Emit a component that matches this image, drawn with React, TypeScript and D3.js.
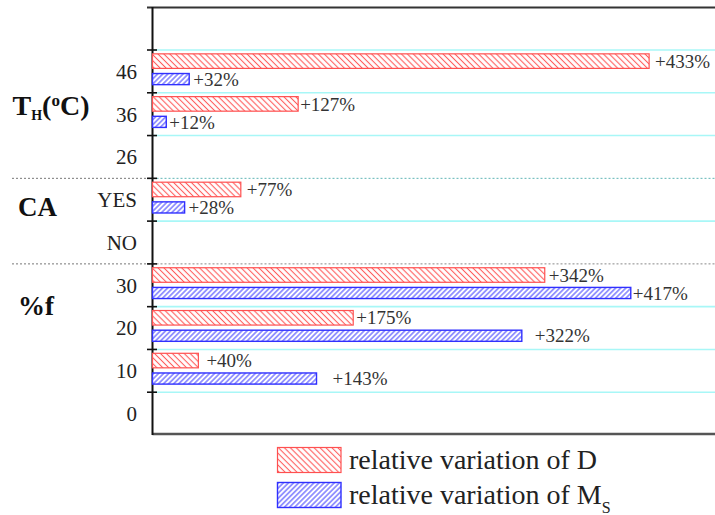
import React from "react";
import * as d3 from "d3";

// Row categories, top to bottom
const categories = ["46", "36", "26", "YES", "NO", "30", "20", "10", "0"];
// Relative variation of D (%) per row
const dVariation: (number | null)[] = [433, 127, null, 77, null, 342, 175, 40, null];
// Relative variation of Ms (%) per row
const msVariation: (number | null)[] = [32, 12, null, 28, null, 417, 322, 143, null];
// Group boundaries drawn as dashed separators (first row of each later group)
const groupStarts = ["YES", "30"];

// Horizontal nudges of the value labels (px past the bar end)
const dLabelGap = [6, 2, 0, 6, 0, 4, 3, 8, 0];
const msLabelGap = [4, 3, 0, 4, 0, 2, 13, 16, 0];

const W = 715;
const H = 515;
const serif = "'Liberation Serif', 'Times New Roman', serif";

export default function App() {
  const x = d3.scaleLinear().domain([0, 490]).range([152.5, 714.5]);
  const y = d3.scaleBand<string>().domain(categories).range([50, 435]).padding(0);
  const step = y.step();
  const axisX = x(0);

  const dTop = (c: string) => (y(c) as number) + step * 0.09;
  const dH = step * 0.34;
  const mTop = (c: string) => (y(c) as number) + step * 0.55;
  const mH = step * 0.26;

  return (
    <svg
      width={W}
      height={H}
      style={{ position: "absolute", left: 0, top: 0, background: "#fff" }}
      fontFamily={serif}
    >
      <defs>
        <pattern id="hatchD" patternUnits="userSpaceOnUse" width={4.2} height={4.2} patternTransform="rotate(-45)">
          <rect width={4.2} height={4.2} fill="#fff" />
          <line x1={2.1} y1={0} x2={2.1} y2={4.2} stroke="#ff5c5c" strokeWidth={1.1} />
        </pattern>
        <pattern id="hatchM" patternUnits="userSpaceOnUse" width={3.6} height={3.6} patternTransform="rotate(45)">
          <rect width={3.6} height={3.6} fill="#fff" />
          <line x1={1.8} y1={0} x2={1.8} y2={3.6} stroke="#4b4bff" strokeWidth={1.1} />
        </pattern>
      </defs>

      {/* row separators */}
      {categories.map((c) =>
        groupStarts.includes(c) ? null : (
          <line key={"g" + c} x1={axisX} x2={W} y1={y(c)} y2={y(c)} stroke="#a8f7f7" strokeWidth={1.6} />
        )
      )}
      {groupStarts.map((c, i) => (
        <g key={"sep" + c}>
          <line x1={12} x2={axisX} y1={y(c)} y2={y(c)} stroke="#777" strokeWidth={1} strokeDasharray="2,2" />
          <line
            x1={axisX}
            x2={W}
            y1={y(c)}
            y2={y(c)}
            stroke={i === 0 ? "#5fb5b5" : "#888"}
            strokeWidth={1}
            strokeDasharray="2,2"
          />
        </g>
      ))}

      {/* frame */}
      <line x1={147} x2={W} y1={7.5} y2={7.5} stroke="#333" strokeWidth={2} />
      <line x1={axisX} x2={W} y1={434} y2={434} stroke="#555" strokeWidth={2.5} />
      <line x1={axisX} x2={axisX} y1={7} y2={435} stroke="#111" strokeWidth={2} />
      {categories.map((c) => (
        <line key={"t" + c} x1={147} x2={157} y1={y(c)} y2={y(c)} stroke="#111" strokeWidth={1.6} />
      ))}

      {/* tick labels */}
      {categories.map((c) => (
        <text
          key={"l" + c}
          x={137}
          y={(y(c) as number) + step / 2}
          dy="0.35em"
          textAnchor="end"
          fontSize={21}
          fill="#222"
        >
          {c}
        </text>
      ))}

      {/* bars */}
      {categories.map((c, i) => {
        const d = dVariation[i];
        const m = msVariation[i];
        return (
          <g key={"b" + c}>
            {d != null && (
              <>
                <rect
                  x={axisX}
                  y={dTop(c)}
                  width={x(d) - axisX}
                  height={dH}
                  fill="url(#hatchD)"
                  stroke="#ff5050"
                  strokeWidth={1.2}
                />
                <text x={x(d) + dLabelGap[i]} y={dTop(c) + dH / 2} dy="0.35em" fontSize={19} fill="#333">
                  {"+" + d + "%"}
                </text>
              </>
            )}
            {m != null && (
              <>
                <rect
                  x={axisX}
                  y={mTop(c)}
                  width={x(m) - axisX}
                  height={mH}
                  fill="url(#hatchM)"
                  stroke="#3030ff"
                  strokeWidth={1.4}
                />
                <text x={x(m) + msLabelGap[i]} y={mTop(c) + mH / 2} dy="0.35em" fontSize={19} fill="#333">
                  {"+" + m + "%"}
                </text>
              </>
            )}
          </g>
        );
      })}

      {/* group titles */}
      <text x={12.5} y={115} fontWeight="bold" fontSize={28} fill="#111">
        T
        <tspan fontSize={14} dy={5}>H</tspan>
        <tspan dy={-5}>(</tspan>
        <tspan fontSize={17} dy={-9}>o</tspan>
        <tspan dy={9}>C)</tspan>
      </text>
      <text x={18} y={216} fontWeight="bold" fontSize={27} fill="#111">CA</text>
      <text x={18} y={315} fontWeight="bold" fontSize={27} fill="#111">%f</text>

      {/* legend */}
      <rect x={277.5} y={447.5} width={63.5} height={25} fill="url(#hatchD)" stroke="#ff5050" strokeWidth={1.2} />
      <rect x={277.5} y={482.5} width={63.5} height={25} fill="url(#hatchM)" stroke="#3030ff" strokeWidth={1.4} />
      <text x={349} y={469} fontSize={28} fill="#222">relative variation of D</text>
      <text x={349} y={504} fontSize={28} fill="#222">
        relative variation of M
        <tspan fontSize={16} dy={9}>S</tspan>
      </text>
    </svg>
  );
}
